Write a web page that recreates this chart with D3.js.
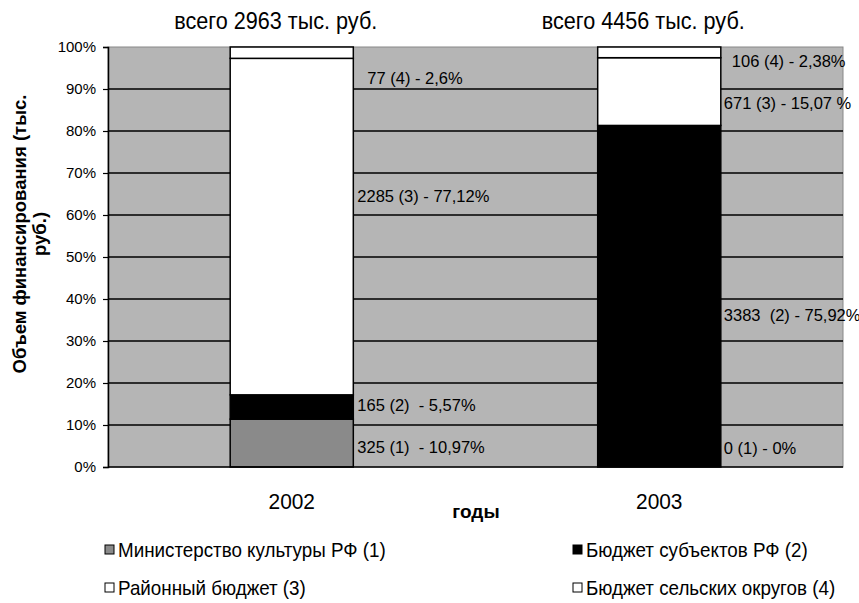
<!DOCTYPE html>
<html><head><meta charset="utf-8">
<script src="https://cdn.jsdelivr.net/npm/d3@7"></script>
<style>body{margin:0;background:#fff}svg{display:block;font-family:Arial,"Liberation Sans",sans-serif}text{white-space:pre}</style>
</head><body><svg id="c" width="859" height="603"></svg>
<script>
const years = ["2002", "2003"];
const totals = ["всего 2963 тыс. руб.", "всего 4456 тыс. руб."];
const seriesNames = ["Министерство культуры РФ (1)", "Бюджет субъектов РФ (2)", "Районный бюджет (3)", "Бюджет сельских округов (4)"];
const ministry = [325, 0];
const subjects = [165, 3383];
const district = [2285, 671];
const rural = [77, 106];
const labels2002 = ["325 (1)  - 10,97%", "165 (2)  - 5,57%", "2285 (3) - 77,12%", "77 (4) - 2,6%"];
const labels2003 = ["0 (1) - 0%", "3383  (2) - 75,92%", "671 (3) - 15,07 %", "106 (4) - 2,38%"];
const yTicks = [0, 0.1, 0.2, 0.3, 0.4, 0.5, 0.6, 0.7, 0.8, 0.9, 1];

const colors = ["#8a8a8a", "#000000", "#ffffff", "#ffffff"];
const svg = d3.select("#c");
const m = {l: 108, r: 843, t: 47, b: 467};

const rows = years.map((y, i) => ({year: y, s0: ministry[i], s1: subjects[i], s2: district[i], s3: rural[i]}));
const keys = ["s0", "s1", "s2", "s3"];
const stacked = d3.stack().keys(keys).offset(d3.stackOffsetExpand)(rows);

const x = d3.scaleBand().domain(years).range([m.l, m.r]).padding(0);
const y = d3.scaleLinear().domain([0, 1]).range([m.b, m.t]);
const barW = x.bandwidth() * 0.335;

// plot bg
svg.append("rect").attr("x", m.l).attr("y", m.t).attr("width", m.r - m.l).attr("height", m.b - m.t)
  .attr("fill", "#b5b5b5").attr("stroke", "#888").attr("stroke-width", 1);

// gridlines
svg.append("g").selectAll("line").data(yTicks.filter(d => d > 0 && d < 1)).join("line")
  .attr("x1", m.l).attr("x2", m.r).attr("y1", d => y(d)).attr("y2", d => y(d))
  .attr("stroke", "#000").attr("stroke-width", 1.5);

// bars
svg.append("g").selectAll("g").data(stacked).join("g").attr("fill", (d, i) => colors[i])
  .selectAll("rect").data(d => d).join("rect")
  .attr("x", d => x(d.data.year) + (x.bandwidth() - barW) / 2)
  .attr("width", barW)
  .attr("y", d => y(d[1])).attr("height", d => Math.max(0, y(d[0]) - y(d[1])))
  .attr("stroke", "#000").attr("stroke-width", 1.5);

// y axis
const ya = svg.append("g").attr("transform", `translate(${m.l},0)`)
  .call(d3.axisLeft(y).tickValues(yTicks).tickFormat(d3.format(".0%")).tickSize(5).tickPadding(7));
ya.select(".domain").attr("stroke", "#000").attr("stroke-width", 1.5);
ya.selectAll(".tick line").attr("stroke", "#000").attr("stroke-width", 1.2);
ya.selectAll("text").attr("font-size", 15).attr("fill", "#000").attr("font-family", "Arial, 'Liberation Sans', sans-serif");
svg.append("line").attr("x1", m.l).attr("x2", m.r).attr("y1", m.b).attr("y2", m.b).attr("stroke", "#000").attr("stroke-width", 1.5);

// x labels
svg.append("g").selectAll("g").data(years).join("g")
  .attr("transform", d => `translate(${x(d) + x.bandwidth() / 2},${509})`)
  .append("text").attr("transform", "scale(0.95,1)").attr("text-anchor", "middle")
  .attr("font-size", 22).text(d => d);
svg.append("text").attr("x", 476).attr("y", 518).attr("text-anchor", "middle")
  .attr("font-size", 19).attr("font-weight", "bold").text("годы");

// totals titles
svg.append("g").selectAll("g").data(totals).join("g")
  .attr("transform", (d, i) => `translate(${x(years[i]) + x.bandwidth() / 2 - 16},29)`)
  .append("text").attr("transform", "scale(0.94,1)").attr("text-anchor", "middle")
  .attr("font-size", 23).text(d => d);

// y title
const yt = svg.append("text").attr("transform", "translate(30,234) rotate(-90)").attr("text-anchor", "middle")
  .attr("font-size", 18.5).attr("font-weight", "bold");
yt.append("tspan").attr("x", 0).attr("dy", -4).text("Объем финансирования (тыс.");
yt.append("tspan").attr("x", 0).attr("dy", 20).text("руб.)");

// value labels, placed beside each bar at hand-chosen heights like the original
const labelY = [[0.048, 0.148, 0.645, 0.925], [0.045, 0.362, 0.865, 0.965]];
const allLabels = [labels2002, labels2003];
const labelDx = [[4, 4, 4, 14], [3, 3, 3, 11]];
years.forEach((yr, i) => {
  svg.append("g").selectAll("text").data(allLabels[i]).join("text")
    .attr("x", (d, k) => x(yr) + (x.bandwidth() + barW) / 2 + labelDx[i][k])
    .attr("y", (d, k) => y(labelY[i][k])).attr("dy", "0.35em")
    .attr("font-size", 16.5).attr("fill", "#000").text(d => d);
});

// legend
const legPos = [[105, 550], [573, 550], [105, 588], [573, 588]];
const lg = svg.append("g").selectAll("g").data(seriesNames).join("g")
  .attr("transform", (d, i) => `translate(${legPos[i][0]},${legPos[i][1]})`);
lg.append("rect").attr("x", 0).attr("y", -5).attr("width", 9).attr("height", 9)
  .attr("fill", (d, i) => colors[i]).attr("stroke", "#000").attr("stroke-width", 1);
lg.append("text").attr("transform", "translate(13,0) scale(0.94,1)").attr("dy", "0.36em").attr("font-size", 20).text(d => d);
</script></body></html>
